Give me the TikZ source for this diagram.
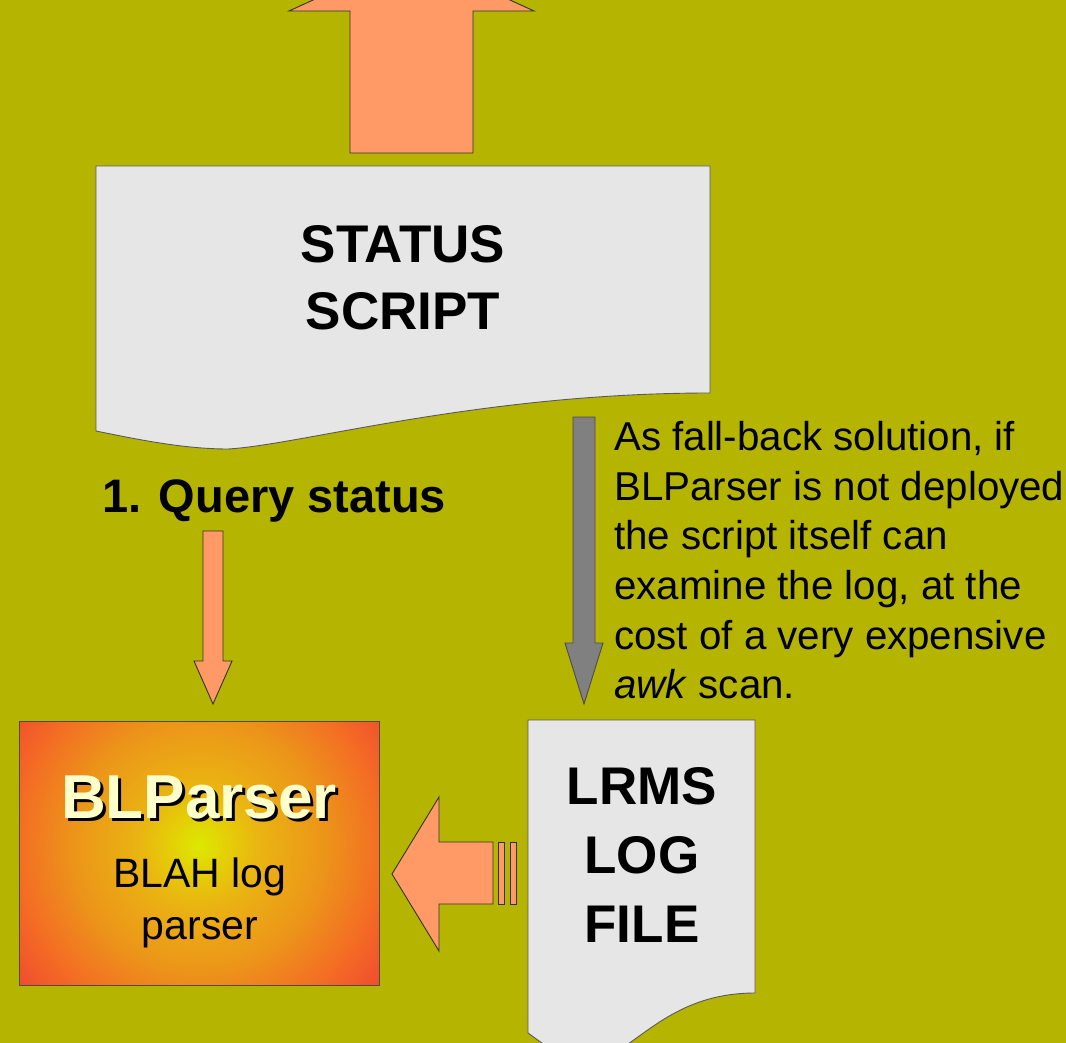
\documentclass[tikz,border=0pt]{standalone}
\usepackage{fontspec}
\setmainfont{Liberation Sans}
\definecolor{bg}{RGB}{181,180,0}
\definecolor{arroworange}{RGB}{255,153,102}
\definecolor{docgray}{RGB}{230,230,230}
\definecolor{darrow}{RGB}{128,128,128}
\definecolor{titleyellow}{RGB}{255,255,204}
\definecolor{blpA}{RGB}{220,234,0}
\definecolor{blpB}{RGB}{228,210,6}
\definecolor{blpC}{RGB}{234,180,18}
\definecolor{blpD}{RGB}{236,148,26}
\definecolor{blpE}{RGB}{244,110,36}
\definecolor{blpF}{RGB}{240,76,46}
\newcommand{\blpring}[5]{%
  \foreach \k in {0,...,#5}{%
    \pgfmathsetmacro\blpr{#2-(#2-#1)*\k/#5}%
    \pgfmathsetmacro\blpp{100-100*\k/#5}%
    \fill[#4!\blpp!#3] (blpc) circle (\blpr pt);}}
\begin{document}
\begin{tikzpicture}[x=1pt,y=-1pt,
  blockarrow/.style={fill=arroworange, draw=black!80, line width=0.9pt, line join=miter},
  grayarrow/.style={fill=darrow, draw=black!70, line width=0.9pt, line join=miter},
  docshape/.style={fill=docgray, draw=black!65, line width=0.9pt},
  bigbold/.style={font=\bfseries\fontsize{53}{67}\selectfont, inner sep=0pt, text=black},
  plain/.style={inner sep=0pt, text=black}]
\useasboundingbox (0,0) rectangle (1066,1043);
\clip (0,0) rectangle (1066,1043);
\fill[bg] (0,0) rectangle (1066,1043);

% top block arrow
\draw[blockarrow] (350,153) -- (350,11) -- (289,11) -- (411.5,-45) -- (534,11) -- (473,11) -- (473,153) -- cycle;

% status script document
\draw[docshape] (96,166) -- (710,166) -- (710,393)
  .. controls (480,393) and (300,445) .. (228,449)
  .. controls (185,449) and (140,440) .. (96,431) -- cycle;
\node[bigbold, align=center, anchor=north] (status) at (403,225) {STATUS\\SCRIPT};

% query label and arrow
\node[plain, anchor=base west, font=\bfseries\fontsize{47}{56}\selectfont] (query) at (102,512) {1. Query status};
\draw[blockarrow] (203,531) -- (223,531) -- (223,661) -- (232,661) -- (213,704) -- (194,661) -- (203,661) -- cycle;

% gray fall-back arrow
\draw[grayarrow] (573,417) -- (595,417) -- (595,643) -- (603,643) -- (584,704) -- (565,643) -- (573,643) -- cycle;
\node[plain, anchor=north west, align=left, font=\fontsize{40.3}{49.7}\selectfont] (note) at (614,421)
  {As fall-back solution, if\\BLParser is not deployed\\the script itself can\\examine the log, at the\\cost of a very expensive\\\textit{awk} scan.};

% BLParser box
\node[fill=blpF, minimum width=359, minimum height=263, inner sep=0pt,
  path picture={
    \coordinate (blpc) at ([yshift=8pt]path picture bounding box.center);
    \blpring{181}{230}{blpE}{blpF}{24}
    \blpring{128}{181}{blpD}{blpE}{26}
    \blpring{62}{128}{blpC}{blpD}{33}
    \blpring{26}{62}{blpB}{blpC}{18}
    \blpring{0}{26}{blpA}{blpB}{13}
  }] (blp) at (199.5,853.5) {};
\draw[draw=black!70, line width=0.9pt] (blp.north west) rectangle (blp.south east);
\node[plain, anchor=base, font=\bfseries\fontsize{62}{70}\selectfont, text=titleyellow] (blptitle) at (199,818)
  {\rlap{\kern3pt\raisebox{-3pt}{\textcolor{black}{BLParser}}}BLParser};
\node[plain, anchor=north, align=center, font=\fontsize{41}{52}\selectfont] (blpsub) at (200,857.5) {BLAH log\\parser};

% left striped arrow
\draw[blockarrow] (493,842) -- (439,842) -- (439,797) -- (392,874) -- (439,951) -- (439,904) -- (493,904) -- cycle;
\draw[blockarrow] (498,842) rectangle (504,904);
\draw[blockarrow] (510,842) rectangle (516,904);

% LRMS log file document
\draw[docshape] (528,720) -- (755,720) -- (755,993)
  .. controls (660,993) and (630,1062) .. (585,1062)
  .. controls (565,1062) and (545,1045) .. (528,1033) -- cycle;
\node[bigbold, align=center, anchor=north, font=\bfseries\fontsize{53}{69}\selectfont] (lrms) at (642,767) {LRMS\\LOG\\FILE};
\end{tikzpicture}
\end{document}
